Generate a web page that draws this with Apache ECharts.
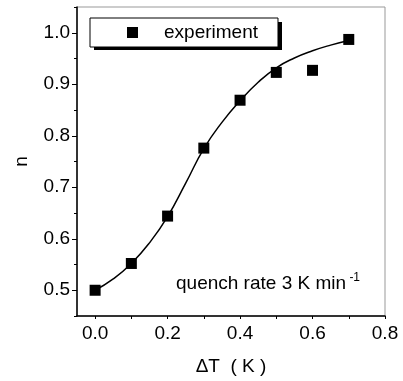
<!DOCTYPE html>
<html>
<head>
<meta charset="utf-8">
<script src="https://cdn.jsdelivr.net/npm/echarts@6/dist/echarts.min.js"></script>
<style>
  html, body { margin: 0; padding: 0; background: #fff; }
  #chart { width: 403px; height: 381px; }
</style>
</head>
<body>
<div id="chart"></div>
<script>
// measured points
const dT = [0, 0.1, 0.2, 0.3, 0.4, 0.5, 0.6, 0.7]
const nExp = [0.5, 0.552, 0.644, 0.776, 0.869, 0.923, 0.927, 0.987]
// fitted curve
const fitX = [0, 0.05, 0.1, 0.15, 0.2, 0.25, 0.3, 0.35, 0.4, 0.45, 0.5, 0.55, 0.6, 0.65, 0.7]
const fitN = [0.5, 0.522, 0.552, 0.592, 0.643, 0.708, 0.775, 0.826, 0.868, 0.904, 0.932, 0.951, 0.965, 0.976, 0.985]
const xLabels = [0, 0.2, 0.4, 0.6, 0.8]
const xTicks = [0, 0.1, 0.2, 0.3, 0.4, 0.5, 0.6, 0.7, 0.8]
const yLabels = [0.5, 0.6, 0.7, 0.8, 0.9, 1.0]
const yMinor = [0.45, 0.55, 0.65, 0.75, 0.85, 0.95, 1.05]

const font = 'Liberation Sans, Arial, sans-serif'
const chart = echarts.init(document.getElementById('chart'))

chart.setOption({
  animation: false,
  textStyle: { fontFamily: font },
  grid: {
    left: 77, right: 18, top: 7, bottom: 65,
    show: true, borderColor: '#999', borderWidth: 1
  },
  legend: {
    left: 90, top: 18,
    data: ['experiment'],
    icon: 'rect',
    itemWidth: 11, itemHeight: 11,
    padding: [5, 20, 5, 37],
    backgroundColor: '#fff',
    borderColor: '#000', borderWidth: 1, borderRadius: 0,
    textStyle: { color: '#000', fontSize: 19, fontFamily: font, padding: [0, 0, 0, 21] }
  },
  xAxis: {
    type: 'value',
    min: -0.05, max: 0.8,
    name: 'ΔT  ( K )',
    nameLocation: 'middle', nameGap: 41,
    nameTextStyle: { color: '#000', fontSize: 19, fontFamily: font },
    splitLine: { show: false },
    axisLine: { onZero: false, lineStyle: { color: '#000', width: 1.5 } },
    axisTick: { customValues: xTicks, length: 3, lineStyle: { color: '#000' } },
    axisLabel: {
      customValues: xLabels, margin: 8, color: '#000', fontSize: 19, fontFamily: font,
      formatter: (v) => v.toFixed(1)
    }
  },
  yAxis: [{
    type: 'value',
    min: 0.45, max: 1.05,
    name: 'n',
    nameLocation: 'middle', nameGap: 46, nameRotate: 90,
    nameTextStyle: { color: '#000', fontSize: 19, fontFamily: font },
    splitLine: { show: false },
    axisLine: { onZero: false, lineStyle: { color: '#000', width: 1.5 } },
    axisTick: { customValues: yLabels, length: 5, lineStyle: { color: '#000' } },
    axisLabel: {
      customValues: yLabels, margin: 7, color: '#000', fontSize: 19, fontFamily: font,
      formatter: (v) => v.toFixed(1)
    }
  }, {
    // minor ticks only
    type: 'value',
    position: 'left',
    min: 0.45, max: 1.05,
    splitLine: { show: false },
    axisLine: { show: false, onZero: false },
    axisTick: { customValues: yMinor, length: 3, lineStyle: { color: '#000' } },
    axisLabel: { show: false }
  }],
  series: [{
    name: 'fit',
    type: 'line',
    smooth: true,
    showSymbol: false,
    data: fitX.map((x, i) => [x, fitN[i]]),
    lineStyle: { color: '#000', width: 1.5 },
    z: 2
  }, {
    name: 'experiment',
    type: 'scatter',
    symbol: 'rect',
    symbolSize: 11,
    data: dT.map((x, i) => [x, nExp[i]]),
    itemStyle: { color: '#000', opacity: 1 },
    z: 3
  }],
  graphic: [{
    // legend drop shadow
    type: 'rect',
    z: 0,
    shape: { x: 94, y: 22, width: 188, height: 28 },
    style: { fill: '#000' }
  }, {
    type: 'text',
    left: 176, top: 272,
    style: {
      text: '{a|quench rate 3 K min}{b| -1}',
      rich: {
        a: { fontSize: 19, fontFamily: font, fill: '#000' },
        b: { fontSize: 12, fontFamily: font, fill: '#000', padding: [0, 0, 12, 0] }
      }
    }
  }]
})
</script>
</body>
</html>
